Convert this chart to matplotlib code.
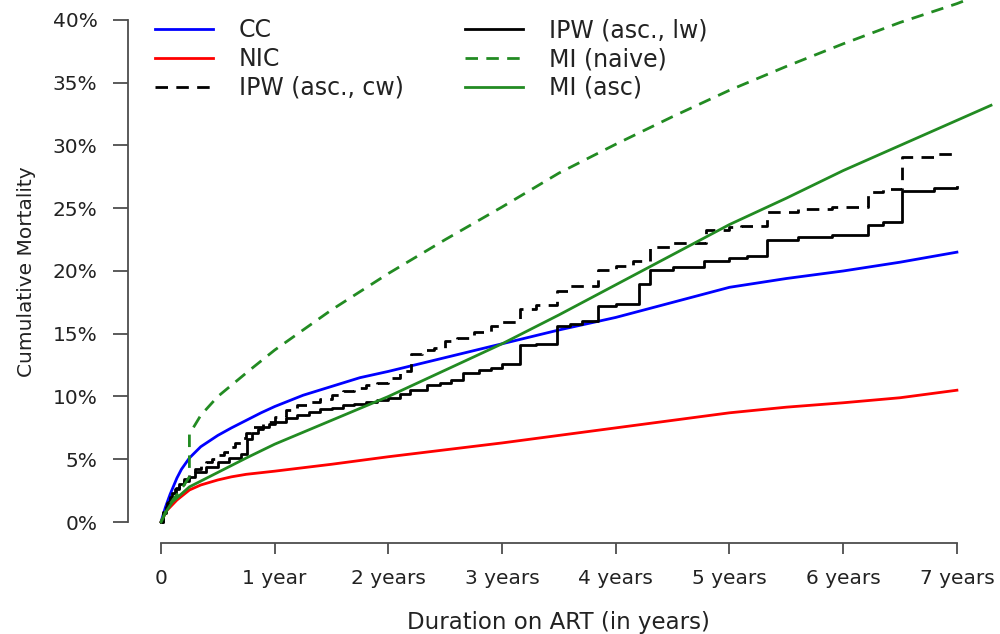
import numpy as np
import matplotlib
matplotlib.use("Agg")
import matplotlib.pyplot as plt

# cumulative mortality (%) against years on ART, one pair of lists per estimator
ccYears = [0, 0.04, 0.08, 0.14, 0.18, 0.25, 0.35, 0.5, 0.62, 0.75, 0.88, 1.0, 1.25, 1.5, 1.75, 2.0, 2.5,
           3.0, 3.5, 4.0, 4.5, 5.0, 5.5, 6.0, 6.5, 7.0]
ccMort = [0, 1.2, 2.2, 3.5, 4.2, 5.1, 6.0, 6.9, 7.5, 8.1, 8.7, 9.2, 10.1, 10.8, 11.5, 12.0, 13.1,
          14.2, 15.3, 16.3, 17.5, 18.7, 19.4, 20.0, 20.7, 21.5]

nicYears = [0, 0.05, 0.14, 0.25, 0.35, 0.5, 0.62, 0.75, 1.0, 1.5, 2.0, 2.5, 3.0, 3.5, 4.0, 4.5, 5.0,
            5.5, 6.0, 6.5, 7.0]
nicMort = [0, 0.9, 1.75, 2.55, 2.95, 3.35, 3.6, 3.8, 4.05, 4.6, 5.2, 5.75, 6.3, 6.9, 7.5, 8.1, 8.7,
           9.15, 9.5, 9.9, 10.5]

# IPW estimates are step functions (value holds until the next time)
ipwCwYears = [0, 0.02, 0.05, 0.08, 0.12, 0.16, 0.2, 0.25, 0.3, 0.35, 0.4, 0.45, 0.5, 0.55, 0.6, 0.65,
              0.7, 0.75, 0.8, 0.9, 1.0, 1.1, 1.2, 1.3, 1.4, 1.5, 1.6, 1.7, 1.8, 1.9, 2.0, 2.1, 2.2,
              2.3, 2.4, 2.5, 2.6, 2.75, 2.9, 3.0, 3.16, 3.3, 3.48, 3.6, 3.846, 4.0, 4.15, 4.3, 4.5,
              4.79, 5.0, 5.1, 5.33, 5.6, 5.9, 6.22, 6.35, 6.52, 6.8, 7.0]
ipwCwMort = [0, 0.8, 1.5, 2.0, 2.6, 3.0, 3.4, 3.8, 4.2, 4.5, 4.8, 5.0, 5.3, 5.6, 6.0, 6.3,
             6.7, 7.1, 7.6, 8.0, 8.4, 8.9, 9.3, 9.6, 9.8, 10.1, 10.4, 10.7, 10.9, 11.1, 11.5, 12.0, 13.4,
             13.7, 13.9, 14.4, 14.7, 15.1, 15.6, 15.9, 17.0, 17.3, 18.4, 18.8, 20.1, 20.4, 20.8, 21.9, 22.2,
             23.3, 23.5, 23.6, 24.7, 24.9, 25.1, 26.3, 26.5, 29.1, 29.3, 29.4]

ipwLwYears = [0, 0.02, 0.04, 0.06, 0.08, 0.1, 0.13, 0.16, 0.2, 0.25, 0.3, 0.4, 0.5, 0.6, 0.7, 0.755,
              0.8, 0.85, 0.9, 0.95, 1.0, 1.1, 1.2, 1.3, 1.4, 1.5, 1.6, 1.7, 1.8, 1.9, 2.0, 2.1, 2.19,
              2.34, 2.45, 2.55, 2.66, 2.8, 2.9, 3.0, 3.16, 3.3, 3.48, 3.6, 3.7, 3.846, 4.0, 4.2, 4.3,
              4.5, 4.78, 5.0, 5.15, 5.33, 5.6, 5.9, 6.22, 6.35, 6.52, 6.8, 7.0]
ipwLwMort = [0, 0.7, 1.2, 1.6, 2.0, 2.3, 2.7, 3.0, 3.3, 3.6, 4.0, 4.4, 4.8, 5.1, 5.4, 6.6,
             7.1, 7.4, 7.6, 7.8, 8.0, 8.3, 8.5, 8.8, 9.0, 9.1, 9.3, 9.4, 9.6, 9.7, 9.9, 10.2, 10.5,
             10.9, 11.1, 11.3, 11.9, 12.1, 12.3, 12.6, 14.1, 14.2, 15.6, 15.8, 16.0, 17.2, 17.4, 19.0, 20.1,
             20.3, 20.8, 21.0, 21.2, 22.5, 22.7, 22.9, 23.7, 23.9, 26.4, 26.6, 26.7]

miNaiveYears = [0, 0.05, 0.1, 0.2, 0.25, 0.25, 0.35, 0.5, 0.78, 1.0, 1.5, 2.0, 2.5, 3.0, 3.5, 4.0,
                4.5, 5.0, 5.5, 6.0, 6.5, 7.0, 7.2]
miNaiveMort = [0, 1.0, 1.7, 2.9, 3.6, 7.0, 8.5, 10.0, 12.1, 13.7, 16.9, 19.8, 22.5, 25.1, 27.8, 30.1,
               32.3, 34.4, 36.3, 38.1, 39.8, 41.3, 42.0]

miAscYears = [0, 0.05, 0.1, 0.25, 0.5, 0.75, 1.0, 1.5, 2.0, 2.5, 3.0, 3.5, 4.0, 4.5, 5.0, 5.5, 6.0,
              6.5, 7.0, 7.3]
miAscMort = [0, 0.9, 1.6, 2.8, 3.95, 5.1, 6.2, 8.1, 10.0, 12.1, 14.2, 16.5, 18.9, 21.3, 23.7, 25.8, 28.0,
             30.0, 32.0, 33.2]

yearTicks = [0, 1, 2, 3, 4, 5, 6, 7]
yearLabels = ["0", "1 year", "2 years", "3 years", "4 years", "5 years", "6 years", "7 years"]
pctTicks = [0, 5, 10, 15, 20, 25, 30, 35, 40]

axisCol = "#4d4d4d"
textCol = "#222222"
green = "#228B22"
lw = 2.0
dash = (0, (4.5, 3))


def main():
    plt.rcParams["font.family"] = ["DejaVu Sans"]
    fig = plt.figure(figsize=(10, 6.34), dpi=100)
    ax = fig.add_axes([0.128, 0.144, 0.872, 0.856])

    cc, = ax.plot(ccYears, ccMort, color="#0000FF", lw=lw)
    nic, = ax.plot(nicYears, nicMort, color="#FF0000", lw=lw)
    cw, = ax.plot(ipwCwYears, ipwCwMort, color="black", lw=lw, drawstyle="steps-post", linestyle=dash)
    lwLine, = ax.plot(ipwLwYears, ipwLwMort, color="black", lw=lw, drawstyle="steps-post")
    naive, = ax.plot(miNaiveYears, miNaiveMort, color=green, lw=lw, linestyle=dash)
    asc, = ax.plot(miAscYears, miAscMort, color=green, lw=lw)

    ax.set_xlim(-0.29, 7.379)
    ax.set_ylim(-1.649, 41.59)

    # R-style detached axes: only the two spines, bounded to the tick range
    for side in ["top", "right"]:
        ax.spines[side].set_visible(False)
    ax.spines["left"].set_bounds(0, 40)
    ax.spines["bottom"].set_bounds(0, 7)
    for side in ["left", "bottom"]:
        ax.spines[side].set_color(axisCol)
        ax.spines[side].set_linewidth(1.3)

    ax.set_xticks(yearTicks)
    ax.set_xticklabels(yearLabels)
    ax.set_yticks(pctTicks)
    ax.set_yticklabels(["%d%%" % p for p in pctTicks])
    ax.tick_params(axis="x", length=8, width=1.3, color=axisCol, pad=11,
                   labelsize=14.5, labelcolor=textCol)
    ax.tick_params(axis="y", length=11, width=1.3, color=axisCol, pad=11,
                   labelsize=14.5, labelcolor=textCol)

    ax.set_xlabel("Duration on ART (in years)", fontsize=16.5, color=textCol)
    ax.xaxis.set_label_coords(0.494, -0.126)
    ax.set_ylabel("Cumulative Mortality", fontsize=14.5, color=textCol)
    ax.yaxis.set_label_coords(-0.106, 0.499)

    legKw = dict(loc="upper left", frameon=False, fontsize=17, borderpad=0, borderaxespad=0,
                 handlelength=2.45, handletextpad=1.1, labelspacing=0.2, labelcolor=textCol)
    leg1 = ax.legend([cc, nic, cw], ["CC", "NIC", "IPW (asc., cw)"],
                     bbox_to_anchor=(0.031, 0.966), **legKw)
    ax.add_artist(leg1)
    ax.legend([lwLine, naive, asc], ["IPW (asc., lw)", "MI (naive)", "MI (asc)"],
              bbox_to_anchor=(0.3865, 0.966), **legKw)

    fig.savefig("out.png", dpi=100)


main()
